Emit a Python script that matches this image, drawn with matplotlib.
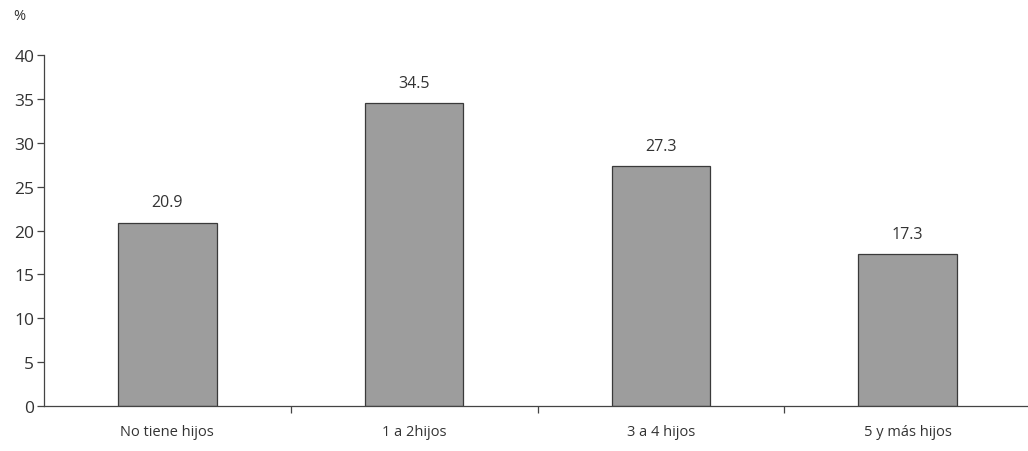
import matplotlib
matplotlib.use('Agg')
import matplotlib.pyplot as plt
import numpy as np

plt.rcParams.update({
    'font.family': ['Open Sans', 'DejaVu Sans'],
    'font.size': 11,
    'text.color': '#333333',
    'axes.edgecolor': '#444444',
    'xtick.color': '#444444',
    'ytick.color': '#444444',
    'xtick.labelcolor': '#333333',
    'ytick.labelcolor': '#333333',
})

categories = ['No tiene hijos', '1 a 2hijos', '3 a 4 hijos', '5 y más hijos']
values = [20.9, 34.5, 27.3, 17.3]
y_ticks = [0, 5, 10, 15, 20, 25, 30, 35, 40]

fig = plt.figure(figsize=(10.28, 4.52), dpi=100)
ax = fig.add_axes([44 / 1028, 1 - 407 / 452, 987 / 1028, 351 / 452])

x = np.arange(len(categories))
bars = ax.bar(x, values, width=0.4, color='#9d9d9d', edgecolor='#3a3a3a', linewidth=0.9)

for bar, val in zip(bars, values):
    ax.annotate(f'{val:.1f}', xy=(bar.get_x() + bar.get_width() / 2, val),
                xytext=(0, 9), textcoords='offset points',
                ha='center', va='bottom', fontsize=11.5)

ax.set_xlim(-0.5, len(categories) - 0.5)
ax.set_ylim(0, 40)
ax.set_yticks(y_ticks)
ax.tick_params(axis='y', direction='out', length=5, width=0.9, pad=2, labelsize=12.5)

# category labels centred, tick marks on the boundaries
ax.set_xticks(x)
ax.set_xticklabels(categories, fontsize=10.5)
ax.tick_params(axis='x', which='major', length=0, pad=13)
ax.set_xticks(x[:-1] + 0.5, minor=True)
ax.tick_params(axis='x', which='minor', direction='out', length=5, width=0.9)

for side in ['top', 'right']:
    ax.spines[side].set_visible(False)
ax.spines['left'].set_linewidth(0.9)
ax.spines['bottom'].set_linewidth(0.9)

fig.text(13 / 1028, 1 - 17 / 452, '%', fontsize=10.5, ha='left', va='center')

fig.savefig('out.png', dpi=100)
